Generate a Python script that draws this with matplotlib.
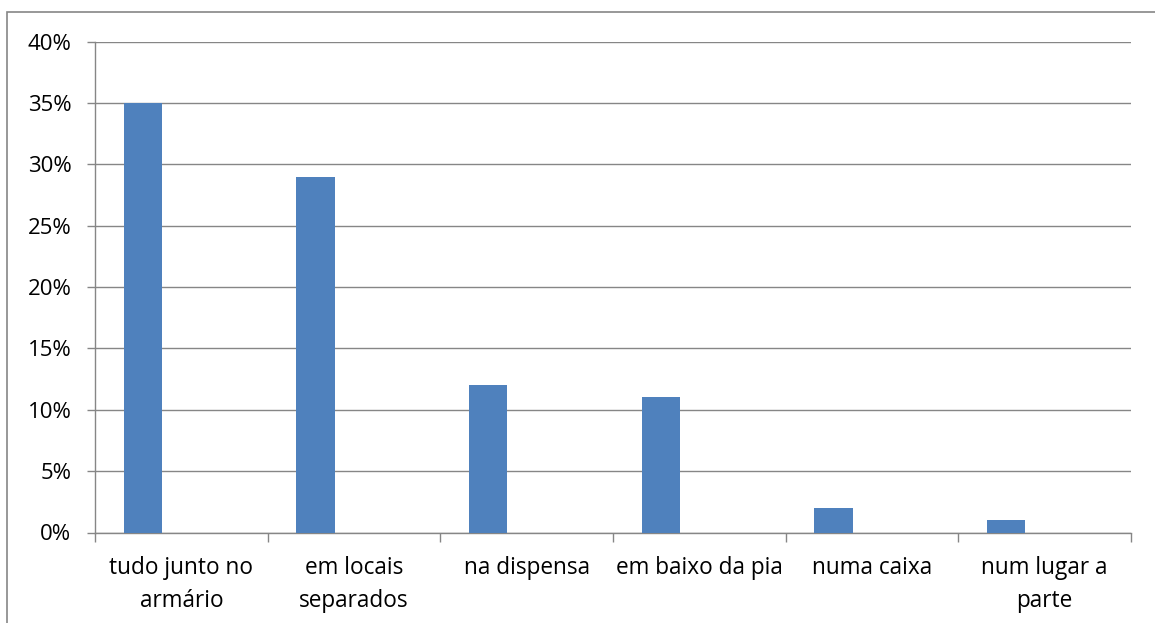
import matplotlib.pyplot as plt
from matplotlib.patches import Rectangle
from matplotlib.ticker import FuncFormatter

categorias = ['tudo junto no\narmário', 'em locais\nseparados', 'na dispensa',
              'em baixo da pia', 'numa caixa', 'num lugar a\nparte']
valores = [0.35, 0.29, 0.12, 0.11, 0.02, 0.01]

plt.rcParams['font.family'] = ['Open Sans', 'DejaVu Sans']

W, H = 1155, 623
fig = plt.figure(figsize=(W / 100, H / 100), dpi=100)
ax = fig.add_axes([95 / W, 1 - 532.5 / H, (1131 - 95) / W, (532.5 - 41.5) / H])

# moldura do gráfico
fig.patches.append(Rectangle((7 / W, -0.1), 1.2, 1 - 12 / H + 0.1,
                             transform=fig.transFigure, fill=False,
                             edgecolor='#868686', linewidth=1.2))

n = len(categorias)
pos = [i + 0.277 for i in range(n)]
ax.bar(pos, valores, width=0.222, color='#4F81BD', zorder=3)

ax.set_xlim(0, n)
ax.set_ylim(0, 0.40)
ax.set_yticks([i * 0.05 for i in range(9)])
ax.yaxis.set_major_formatter(FuncFormatter(lambda v, p: f'{v * 100:.0f}%'))
ax.grid(axis='y', color='#868686', linewidth=1.0, zorder=0)

ax.set_xticks(range(n + 1))
ax.set_xticklabels([])
ax.set_xticks([i + 0.5 for i in range(n)], minor=True)
ax.set_xticklabels(categorias, minor=True, fontsize=16.3, linespacing=1.5)
ax.tick_params(axis='x', which='major', length=6.5, color='#868686', width=1)
ax.tick_params(axis='x', which='minor', length=0, pad=17)
ax.tick_params(axis='y', length=6, color='#868686', width=1, labelsize=16, pad=11)

for s in ['top', 'right']:
    ax.spines[s].set_visible(False)
for s in ['left', 'bottom']:
    ax.spines[s].set_color('#868686')
    ax.spines[s].set_linewidth(1.0)

fig.savefig('out.png', dpi=100)
